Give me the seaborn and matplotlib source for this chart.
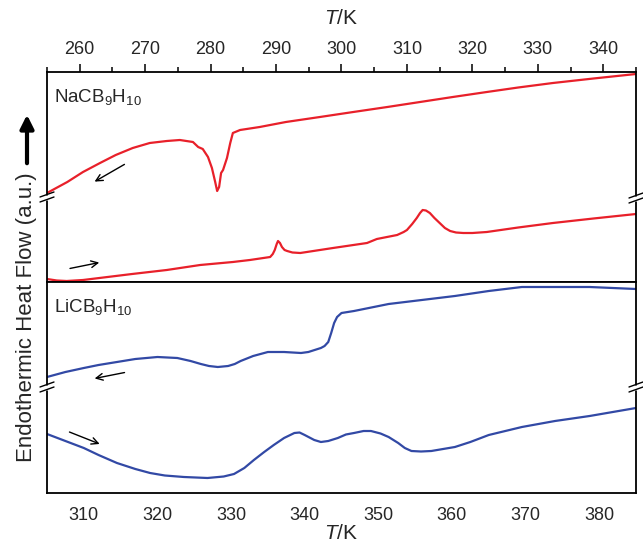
import matplotlib
matplotlib.use("Agg")
import matplotlib.pyplot as plt
import seaborn as sns
import numpy as np

# ---------------- data (a.u.) ----------------
na_cool_T = [255, 258.1, 260.5, 263.1, 265.5, 268.1, 270.7, 273.3, 275.3, 277.3, 278.1, 278.8,
             279.6, 280.2, 280.7, 281.0, 281.3, 281.6, 281.9, 282.5, 283.0, 283.4, 284.5,
             287.5, 291.5, 296.7, 301.8, 307.0, 312.0, 317.0, 322.2, 327.0, 332.3, 338.5, 345]
na_cool_v = [89, 100, 110, 119, 127, 134, 139, 141, 142, 140, 135, 133,
             125, 114, 100, 91, 95, 109, 112, 124, 139, 149, 152,
             155, 160, 165, 170, 175, 180, 185, 190, 194.5, 199, 203.5, 208]

na_heat_T = [255, 256.5, 258, 260.5, 263, 268, 273.3, 278.4, 283.4, 286.0, 289.1, 289.5, 289.8,
             290.1, 290.3, 290.6, 290.9, 291.3, 291.7, 292.5, 293.7, 298.7, 303.9, 305.4,
             308.5, 309.5, 310.0, 310.8, 311.5, 312.0, 312.4, 312.9, 313.5, 314.2, 315.0,
             315.8, 316.6, 317.5, 318.6, 320.0, 322.2, 327.0, 332.3, 338.5, 345]
na_heat_v = [3, 1.5, 1, 2, 4, 8, 12, 17, 20, 22, 25, 28, 32,
             38, 41, 39, 35, 32, 31, 29.5, 29, 34, 39, 43,
             47, 50, 52, 58, 64, 69, 72, 71.5, 69, 64, 59,
             54, 51, 49.5, 49, 49, 50, 54.5, 59, 63.5, 68]

li_cool_T = [305, 307.5, 310, 312, 314.5, 317, 320, 322.7, 324.5, 325.9, 327, 328.2, 329.6,
             330.5, 331.3, 333, 335, 337.2, 339.5, 340.5, 342.2, 342.7, 343.2, 343.6, 344,
             344.4, 345, 346.7, 351.4, 355.9, 360.4, 365, 369.5, 374, 378.7, 385]
li_cool_v = [116, 121, 125, 128, 131, 134, 136, 135, 132, 129, 127, 126, 127,
             129, 132, 137, 141, 141, 140, 141, 145, 147, 151, 160, 170,
             176, 180, 182, 189, 193, 197, 202, 206, 206, 206, 204]

li_heat_T = [305, 307.5, 310, 312, 314.5, 317, 319, 321, 323.6, 326.8, 329, 330.4, 331.8,
             333.1, 334.5, 335.8, 337.2, 338.6, 339.3, 340, 341.3, 342.2, 343.2, 344.5,
             345.6, 346.7, 348, 349, 350.3, 351.4, 352.7, 353.6, 354.5, 355.8, 357.2,
             360.4, 362.5, 365, 369.5, 374, 378.7, 385]
li_heat_v = [59, 52, 45, 38, 30, 24, 20, 17.5, 16, 15, 16.5, 19, 25,
             33, 41, 48, 55, 60, 60.5, 58, 53, 51, 52, 55,
             58.5, 60, 62, 62, 59.5, 56, 50, 45, 42, 41.5, 42,
             46, 51, 58, 66, 72, 77, 85]

top_ticks = [260, 270, 280, 290, 300, 310, 320, 330, 340]
bot_ticks = [310, 320, 330, 340, 350, 360, 370, 380]
# -------------------------------------------------------------------

sns.set_style("white")
plt.rcParams['font.family'] = ['Liberation Sans', 'DejaVu Sans']
plt.rcParams['mathtext.fontset'] = 'custom'
plt.rcParams['mathtext.rm'] = 'Liberation Sans'
plt.rcParams['mathtext.it'] = 'Liberation Sans:italic'

W, H = 643, 546
fig = plt.figure(figsize=(W / 100, H / 100), dpi=100)

L, R = 47, 636
ytop, ymid, ybot = 72, 282, 493
ax1 = fig.add_axes([L / W, (H - ymid) / H, (R - L) / W, (ymid - ytop) / H])
ax2 = fig.add_axes([L / W, (H - ybot) / H, (R - L) / W, (ybot - ymid) / H])

RED = "#e8202a"
BLUE = "#3249a5"
LW = 1.6

sns.lineplot(x=na_cool_T, y=na_cool_v, ax=ax1, color=RED, lw=LW, sort=False, estimator=None)
sns.lineplot(x=na_heat_T, y=na_heat_v, ax=ax1, color=RED, lw=LW, sort=False, estimator=None)
sns.lineplot(x=li_cool_T, y=li_cool_v, ax=ax2, color=BLUE, lw=LW, sort=False, estimator=None)
sns.lineplot(x=li_heat_T, y=li_heat_v, ax=ax2, color=BLUE, lw=LW, sort=False, estimator=None)

ax1.set_xlim(255, 345)
ax1.set_ylim(0, 210)
ax2.set_xlim(305, 385)
ax2.set_ylim(0, 211)

for ax in (ax1, ax2):
    ax.set_yticks([])
    ax.set_ylabel("")
    for s in ax.spines.values():
        s.set_color("black")
        s.set_linewidth(1.3)

ax1.xaxis.tick_top()
ax1.xaxis.set_label_position("top")
ax1.set_xticks(top_ticks)
ax1.set_xticks(np.arange(255, 346, 5), minor=True)
ax1.tick_params(axis='x', which='major', direction='out', length=6, width=1.3, labelsize=13, pad=4, top=True, bottom=False)
ax1.tick_params(axis='x', which='minor', direction='out', length=3.5, width=1.3, top=True, bottom=False)
ax1.set_xlabel("$T$/K", fontsize=15, labelpad=12)

ax2.set_xticks(bot_ticks)
ax2.set_xticks(np.arange(305, 386, 5), minor=True)
ax2.tick_params(axis='x', which='major', direction='out', length=6, width=1.3, labelsize=13, pad=4)
ax2.tick_params(axis='x', which='minor', direction='out', length=3.5, width=1.3)
ax2.set_xlabel("$T$/K", fontsize=15, labelpad=0)

ax1.text(0.012, 0.93, "NaCB$_9$H$_{10}$", transform=ax1.transAxes, fontsize=13.5, va='top', ha='left')
ax2.text(0.012, 0.93, "LiCB$_9$H$_{10}$", transform=ax2.transAxes, fontsize=13.5, va='top', ha='left')

# direction arrows
ap = dict(arrowstyle="->", color="black", lw=1.0, mutation_scale=12)
ax1.annotate("", xy=(261.9, 99), xytext=(267.2, 119), arrowprops=ap)
ax1.annotate("", xy=(263.4, 20), xytext=(258.1, 13), arrowprops=ap)
ax2.annotate("", xy=(311.1, 114), xytext=(315.9, 121), arrowprops=ap)
ax2.annotate("", xy=(312.5, 48), xytext=(307.7, 62), arrowprops=ap)


# axis break marks
def brk(ax, xa, yv):
    ylo, yhi = ax.get_ylim()
    ya = (yv - ylo) / (yhi - ylo)
    bb = ax.get_window_extent()
    dx = 7 / bb.width
    dy = 2.5 / bb.height
    g = 2.5 / bb.height
    ax.plot([xa, xa], [ya - g, ya + g], transform=ax.transAxes, color="white", lw=2.5,
            clip_on=False, zorder=5, solid_capstyle='butt')
    for off in (-g, g):
        ax.plot([xa - dx, xa + dx], [ya + off - dy, ya + off + dy], transform=ax.transAxes,
                color="black", lw=1.0, clip_on=False, zorder=6)


fig.canvas.draw()
brk(ax1, 0, 85)
brk(ax1, 1, 84)
brk(ax2, 0, 106)
brk(ax2, 1, 106)

# y label and big arrow
fig.text(27 / W, 1 - 317 / H, "Endothermic Heat Flow (a.u.)", rotation=90, fontsize=16,
         ha='center', va='center')
fig.patches.append(matplotlib.patches.FancyArrowPatch(
    (27 / W, 1 - 166 / H), (27 / W, 1 - 112 / H), transform=fig.transFigure,
    arrowstyle="-|>", mutation_scale=20, lw=3, color="black"))

fig.savefig("out.png", dpi=100)
